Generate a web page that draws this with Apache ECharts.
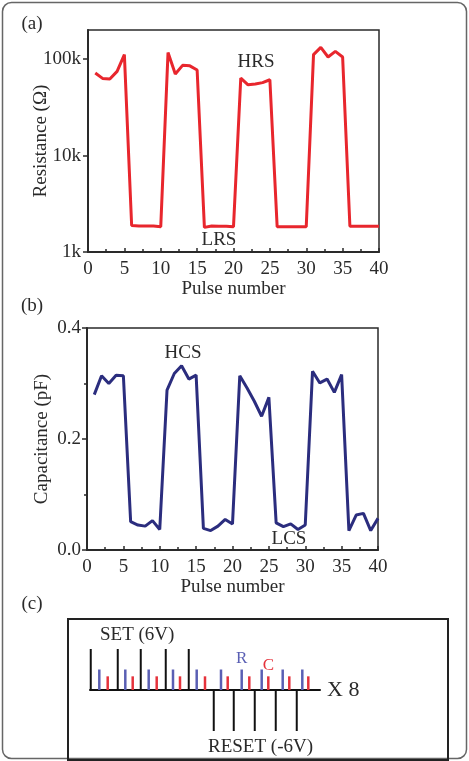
<!DOCTYPE html>
<html>
<head>
<meta charset="utf-8">
<script src="https://cdn.jsdelivr.net/npm/echarts@6/dist/echarts.min.js"></script>
<style>
  html, body { margin: 0; padding: 0; background: #fff; }
  #chart { width: 469px; height: 761px; }
</style>
</head>
<body>
<div id="chart"></div>
<script>
// --- data -----------------------------------------------------------------
const pulseNo = [1, 2, 3, 4, 5, 6, 7, 8, 9, 10, 11, 12, 13, 14, 15, 16, 17, 18, 19, 20,
  21, 22, 23, 24, 25, 26, 27, 28, 29, 30, 31, 32, 33, 34, 35, 36, 37, 38, 39, 40];

// (a) resistance, ohm
const resistance = [71600, 63000, 62000, 74500, 111000, 1880, 1860, 1860, 1860, 1830,
  117000, 70000, 86000, 85000, 77000, 1800, 1860, 1850, 1850, 1830,
  63500, 54000, 55000, 57000, 61000, 1830, 1830, 1830, 1830, 1830,
  111000, 132000, 105000, 120000, 105000, 1850, 1850, 1850, 1850, 1850];

// (b) capacitance, pF
const capacitance = [0.280, 0.314, 0.300, 0.315, 0.314, 0.051, 0.045, 0.043, 0.053, 0.037,
  0.288, 0.318, 0.332, 0.308, 0.315, 0.039, 0.035, 0.043, 0.055, 0.047,
  0.314, 0.292, 0.268, 0.241, 0.275, 0.049, 0.042, 0.047, 0.037, 0.045,
  0.322, 0.301, 0.308, 0.284, 0.316, 0.035, 0.063, 0.066, 0.035, 0.057];

const resTicks = [1000, 10000, 100000];

// (c) pulse scheme: write pulses (SET / RESET) followed by an R read and a C read
const writeT = [1, 28, 51, 76, 99, 124, 144, 165, 186, 207];
const writeV = [6, 6, 6, 6, 6, -6, -6, -6, -6, -6];
const readRT = [9.3, 35.3, 58.7, 83, 106.7, 131, 151.7, 171.7, 192.7, 212.3];
const readRV = [3, 3, 3, 3, 3, 3, 3, 3, 3, 3];
const readCT = [17.7, 42.7, 66.7, 90, 115, 137.7, 159.3, 178.3, 199.3, 218.3];
const readCV = [2, 2, 2, 2, 2, 2, 2, 2, 2, 2];

// --- styling ---------------------------------------------------------------
const FONT = "Liberation Serif";
const INK = "#2a2a2a";
const RED = "#e8262d";
const NAVY = "#2b2d7e";
const BLUE_R = "#5a5fb4";
const RED_C = "#e5323b";

const pairs = (xs, ys) => xs.map((x, i) => [x, ys[i]]);

function xAxisPulse(gridIndex) {
  return {
    gridIndex, type: "value", min: 0, max: 40, interval: 5,
    name: "Pulse number", nameLocation: "middle", nameGap: 25,
    nameTextStyle: { fontFamily: FONT, fontSize: 19, color: INK },
    axisLine: { lineStyle: { color: INK, width: 2 } },
    axisTick: { inside: true, length: 4, lineStyle: { color: INK, width: 1.5 } },
    minorTick: { show: true, splitNumber: 2, length: 3, lineStyle: { color: INK, width: 1.5 } },
    axisLabel: { fontFamily: FONT, fontSize: 19, color: INK, margin: 8 },
    splitLine: { show: false },
  };
}

const chart = echarts.init(document.getElementById("chart"), null, { renderer: "canvas" });

// (c) R / C read data, with the one labelled read of each kind
const readRData = pairs(readRT, readRV).map((d, i) => i === 6
  ? { value: d, label: { show: true, formatter: "R", position: "top", distance: 2, color: BLUE_R, fontFamily: FONT, fontSize: 17 } }
  : d);
const readCData = pairs(readCT, readCV).map((d, i) => i === 7
  ? { value: d, label: { show: true, formatter: "C", position: "top", distance: 2, color: RED_C, fontFamily: FONT, fontSize: 17 } }
  : d);

const txt = (text, x, y, size, extra = {}) => ({
  type: "text", z: 100,
  style: Object.assign({ text, x, y, fill: INK, font: `${size}px "${FONT}"`, align: "center", verticalAlign: "middle" }, extra),
});

chart.setOption({
  animation: false,
  backgroundColor: "#fff",
  grid: [
    { left: 88, top: 30, width: 291, height: 222, show: true, borderColor: INK, borderWidth: 1.5, backgroundColor: "transparent" },
    { left: 87, top: 328, width: 291, height: 222, show: true, borderColor: INK, borderWidth: 1.5, backgroundColor: "transparent" },
    { left: 90, top: 649, width: 230, height: 82, show: false },
  ],
  xAxis: [
    xAxisPulse(0),
    xAxisPulse(1),
    {
      gridIndex: 2, type: "value", min: 0, max: 230,
      axisLine: { onZero: true, lineStyle: { color: "#111", width: 2 } },
      axisTick: { show: false }, axisLabel: { show: false }, splitLine: { show: false },
    },
  ],
  yAxis: [
    {
      gridIndex: 0, type: "log", logBase: 10, min: 1000, max: 200000,
      name: "Resistance (Ω)", nameLocation: "middle", nameGap: 37, nameMoveOverlap: false,
      nameTextStyle: { fontFamily: FONT, fontSize: 19, color: INK },
      axisLine: { lineStyle: { color: INK, width: 2 } },
      axisTick: { length: 5, lineStyle: { color: INK, width: 1.5 } },
      axisLabel: {
        fontFamily: FONT, fontSize: 19, color: INK, margin: 7, showMaxLabel: false,
        formatter: (v) => (resTicks.includes(Math.round(v)) ? Math.round(v) / 1000 + "k" : ""),
      },
      splitLine: { show: false },
    },
    {
      gridIndex: 1, type: "value", min: 0, max: 0.4, interval: 0.2,
      name: "Capacitance (pF)", nameLocation: "middle", nameGap: 35, nameMoveOverlap: false,
      nameTextStyle: { fontFamily: FONT, fontSize: 19, color: INK },
      axisLine: { lineStyle: { color: INK, width: 2 } },
      axisTick: { length: 5, lineStyle: { color: INK, width: 1.5 } },
      minorTick: { show: true, splitNumber: 2, length: 3, lineStyle: { color: INK, width: 1.5 } },
      axisLabel: { fontFamily: FONT, fontSize: 19, color: INK, margin: 6, formatter: (v) => v.toFixed(1) },
      splitLine: { show: false },
    },
    { gridIndex: 2, type: "value", min: -6, max: 6, show: false },
  ],
  series: [
    {
      type: "line", xAxisIndex: 0, yAxisIndex: 0, data: pairs(pulseNo, resistance),
      showSymbol: false, lineStyle: { color: RED, width: 3 }, itemStyle: { color: RED },
    },
    {
      type: "line", xAxisIndex: 1, yAxisIndex: 1, data: pairs(pulseNo, capacitance),
      showSymbol: false, lineStyle: { color: NAVY, width: 3 }, itemStyle: { color: NAVY },
    },
    {
      type: "bar", xAxisIndex: 2, yAxisIndex: 2, data: pairs(writeT, writeV),
      barWidth: 2, barGap: "-100%", itemStyle: { color: "#111" },
    },
    {
      type: "bar", xAxisIndex: 2, yAxisIndex: 2, data: readRData,
      barWidth: 2.5, barGap: "-100%", itemStyle: { color: BLUE_R },
    },
    {
      type: "bar", xAxisIndex: 2, yAxisIndex: 2, data: readCData,
      barWidth: 2.5, barGap: "-100%", itemStyle: { color: RED_C },
    },
  ],
  graphic: [
    { type: "rect", z: 90, shape: { x: 2.5, y: 2.5, width: 464, height: 756, r: 9 }, style: { fill: "none", stroke: "#666", lineWidth: 1.5 } },
    { type: "rect", z: 90, shape: { x: 68, y: 619, width: 380, height: 141 }, style: { fill: "none", stroke: "#222", lineWidth: 2 } },
    txt("(a)", 32, 24, 19),
    txt("(b)", 32, 306, 19),
    txt("(c)", 32, 604, 19),
    txt("HRS", 256, 62, 19),
    txt("LRS", 219, 240, 19),
    txt("HCS", 183, 353, 19),
    txt("LCS", 289, 539, 19),
    txt("SET (6V)", 100, 635, 19, { align: "left" }),
    txt("RESET (-6V)", 208, 747, 19, { align: "left" }),
    txt("X 8", 327, 690, 22, { align: "left" }),
  ],
});
</script>
</body>
</html>
